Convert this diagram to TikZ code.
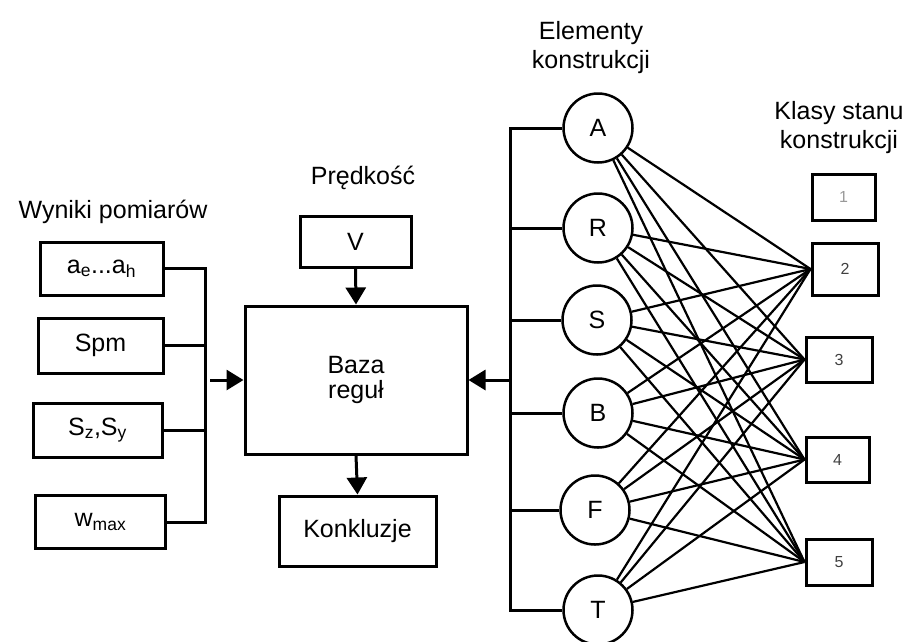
\documentclass[tikz,border=0pt]{standalone}
\usepackage{fontspec}
\setmainfont{Liberation Sans}
\usetikzlibrary{arrows.meta}
\begin{document}
\begin{tikzpicture}[x=1pt,y=-1pt,
  box/.style={draw,line width=3pt,inner sep=0pt,font=\fontsize{25}{27}\selectfont},
  cls/.style={draw,line width=3pt,inner sep=0pt,font=\fontsize{16}{18}\selectfont,text=black!75},
  elem/.style={draw,circle,line width=2.5pt,minimum size=69pt,inner sep=0pt,font=\fontsize{25}{27}\selectfont},
  lbl/.style={font=\fontsize{25}{29}\selectfont,align=center,inner sep=0pt},
  bus/.style={line width=3pt},
  link/.style={line width=2.2pt},
  arr/.style={line width=3pt,-{Triangle[width=20pt,length=17pt]}}
]
\useasboundingbox (0,0) rectangle (909,641);
% left inputs
\node[lbl] (wyn) at (113,212) {Wyniki pomiarów};
\node[box,minimum width=123pt,minimum height=53pt] (a) at (101.5,268.5) {a\textsubscript{e}...a\textsubscript{h}};
\node[box,minimum width=125pt,minimum height=55pt] (spm) at (100.5,345.5) {Spm};
\node[box,minimum width=129pt,minimum height=54pt] (s) at (97.5,430) {S\textsubscript{z},S\textsubscript{y}};
\node[box,minimum width=130pt,minimum height=53pt] (w) at (100.5,522) {w\textsubscript{max}};
\coordinate (lt) at (205,268.5);
\coordinate (lb) at (205,522);
\coordinate (lin) at (210,380);
\draw[bus] (a.east) -- (lt) -- (lb) -- (w.east);
\draw[bus] (spm.east) -- (spm.east -| lt);
\draw[bus] (s.east) -- (s.east -| lt);
% center
\node[lbl] (pred) at (363,178) {Prędkość};
\node[box,minimum width=111pt,minimum height=51pt] (v) at (355.5,241.5) {V};
\node[box,minimum width=222pt,minimum height=148pt,align=center,font=\fontsize{25}{25}\selectfont] (baza) at (356,380) {Baza\\reguł};
\node[box,minimum width=157pt,minimum height=70pt] (konk) at (357.5,531) {Konkluzje};
\draw[arr] (v.south) -- (baza.north);
\draw[arr] (baza.south) -- (konk.north);
\draw[arr] (lin) -- (baza.west);
% elements
\node[lbl] (el) at (591,48) {Elementy\\konstrukcji};
\node[elem] (A) at (598,128) {A};
\node[elem] (R) at (598,228) {R};
\node[elem] (S) at (597,320) {S};
\node[elem] (B) at (598,413) {B};
\node[elem] (F) at (595,510) {F};
\node[elem] (T) at (598,610) {T};
\coordinate (rt) at (510,128);
\coordinate (rb) at (510,610);
\coordinate (rin) at (510,380);
\draw[bus] (A.west) -- (rt) -- (rb) -- (T.west);
\foreach \n in {R,S,B,F} \draw[bus] (\n.west) -- (\n.west -| rt);
\draw[arr] (rin) -- (baza.east);
% classes
\node[lbl] (kl) at (839,128) {Klasy stanu\\konstrukcji};
\node[cls,minimum width=63pt,minimum height=46pt,text=black!40] (k1) at (843.5,197) {1};
\node[cls,minimum width=66pt,minimum height=52pt] (k2) at (845,269) {2};
\node[cls,minimum width=66pt,minimum height=45pt] (k3) at (839,359.5) {3};
\node[cls,minimum width=63pt,minimum height=45pt] (k4) at (837.5,459.5) {4};
\node[cls,minimum width=66pt,minimum height=46pt] (k5) at (839,562) {5};
\foreach \e in {A,R,S,B,F,T}
  \foreach \k in {k2,k3,k4,k5}
    \draw[link] (\e) -- (\k.west);
\end{tikzpicture}
\end{document}
